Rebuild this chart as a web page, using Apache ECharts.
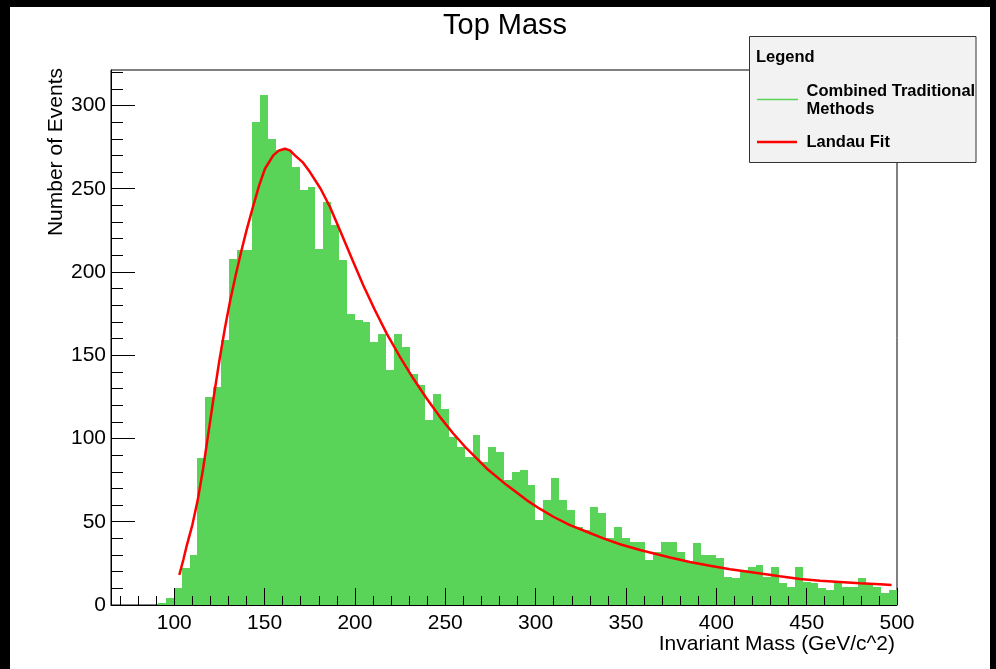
<!DOCTYPE html>
<html>
<head>
<meta charset="utf-8">
<title>Top Mass</title>
<script src="https://cdn.jsdelivr.net/npm/echarts@6/dist/echarts.min.js"></script>
<style>
html, body { margin: 0; padding: 0; background: #000; }
#main { width: 996px; height: 669px; }
</style>
</head>
<body>
<div id="main"></div>
<script>
// histogram: 100 bins between 65 and 500
var binMin = 65;
var binMax = 500;
var nBins = 100;
var counts = [
    0, 0, 0, 0, 0, 0, 1, 4, 10, 22,
    30, 88, 125, 131, 159, 208, 213, 213, 290, 306,
    280, 273, 273, 263, 249, 251, 214, 242, 228, 207,
    175, 171, 170, 158, 163, 141, 163, 155, 139, 132,
    111, 127, 118, 101, 95, 89, 102, 86, 95, 92,
    75, 80, 81, 72, 51, 63, 76, 63, 57, 47,
    45, 59, 55, 40, 47, 40, 38, 38, 27, 32,
    38, 38, 32, 26, 37, 30, 30, 28, 17, 16,
    21, 23, 24, 17, 23, 13, 11, 23, 14, 13,
    10, 9, 14, 11, 11, 16, 13, 11, 7, 9
];
// landau fit
var fitX = [102.8, 105, 107, 110, 113, 116, 119, 122, 125, 128,
    131, 134, 137, 140, 143.8, 147, 150.2, 154.8, 158, 161.3,
    164, 166.8, 171, 175.1, 181, 186.2, 191.7, 199.1, 204.6, 211.1,
    217.6, 224.9, 232.3, 239.7, 247, 254.4, 261.8, 272.9, 284, 295,
    302, 309.8, 319, 328.3, 337.5, 346.7, 357.8, 374.4, 385.4, 396.5,
    407.6, 418.6, 435.2, 446.3, 457.4, 468.4, 479.5, 490.6, 497];
var fitY = [18, 27, 36, 48, 63, 82, 104, 126, 147, 166,
    183, 198, 212, 225, 240, 252, 262, 270, 273, 274,
    273, 270, 266, 260, 250, 239, 225, 206, 192, 177,
    163, 149, 136, 124, 113, 103, 94, 82, 72, 63,
    58, 53, 48, 44, 40, 36.5, 33, 28.5, 25.8, 23.6,
    21.5, 19.8, 17.2, 15.6, 14.6, 13.8, 13, 12.4, 12];
// axis ticks
var xMajorTicks = [100, 150, 200, 250, 300, 350, 400, 450, 500];
var xMinorTicks = [70, 80, 90, 110, 120, 130, 140, 160, 170, 180, 190, 210, 220, 230, 240,
    260, 270, 280, 290, 310, 320, 330, 340, 360, 370, 380, 390, 410, 420, 430, 440,
    460, 470, 480, 490];
var yMajorTicks = [0, 50, 100, 150, 200, 250, 300];
var yMinorTicks = [10, 20, 30, 40, 60, 70, 80, 90, 110, 120, 130, 140, 160, 170, 180, 190,
    210, 220, 230, 240, 260, 270, 280, 290, 310, 320];
var yMax = 321.3;

var FONT = 'Liberation Sans, Arial, Helvetica, sans-serif';
var barColor = '#59d459';

function buildBins() {
    var w = (binMax - binMin) / nBins;
    var arr = [];
    for (var i = 0; i < nBins; i++) {
        arr.push([binMin + i * w, binMin + (i + 1) * w, counts[i]]);
    }
    return arr;
}

function buildFit() {
    var arr = [];
    for (var i = 0; i < fitX.length; i++) {
        arr.push([fitX[i], fitY[i]]);
    }
    return arr;
}

function renderBin(params, api) {
    var n = api.value(2);
    if (!n) return;
    var p0 = api.coord([api.value(0), 0]);
    var p1 = api.coord([api.value(1), n]);
    // snap to whole pixels so neighbouring bins touch without seams
    var x0 = Math.round(p0[0]);
    var x1 = Math.round(p1[0]);
    var yTop = Math.round(p1[1]);
    return {
        type: 'rect',
        shape: { x: x0, y: yTop, width: x1 - x0, height: p0[1] - yTop },
        style: { fill: barColor }
    };
}

var option = {
    backgroundColor: '#000',
    animation: false,
    title: {
        text: 'Top Mass',
        left: 438,
        top: 6,
        textStyle: { fontSize: 29, fontWeight: 'normal', color: '#000', fontFamily: FONT }
    },
    grid: {
        left: 111, top: 70, right: 99, bottom: 64,
        show: true, borderColor: '#000', borderWidth: 1, backgroundColor: 'transparent'
    },
    xAxis: [{
        type: 'value', min: binMin, max: binMax, position: 'bottom', z: 10,
        axisLine: { show: true, onZero: false, lineStyle: { color: '#000', width: 1 } },
        axisTick: { show: true, inside: true, length: 17, customValues: xMajorTicks, lineStyle: { color: '#000' } },
        axisLabel: { customValues: xMajorTicks, fontSize: 21, color: '#000', fontFamily: FONT, margin: 8 },
        splitLine: { show: false }
    }, {
        type: 'value', min: binMin, max: binMax, position: 'bottom', z: 10,
        axisLine: { show: false },
        axisTick: { show: true, inside: true, length: 9, customValues: xMinorTicks, lineStyle: { color: '#000' } },
        axisLabel: { show: false },
        splitLine: { show: false }
    }],
    yAxis: [{
        type: 'value', min: 0, max: yMax, position: 'left', z: 10,
        axisLine: { show: true, onZero: false, lineStyle: { color: '#000', width: 1 } },
        axisTick: { show: true, inside: true, length: 24, customValues: yMajorTicks, lineStyle: { color: '#000' } },
        axisLabel: { customValues: yMajorTicks, fontSize: 21, color: '#000', fontFamily: FONT, margin: 5 },
        splitLine: { show: false }
    }, {
        type: 'value', min: 0, max: yMax, position: 'left', z: 10,
        axisLine: { show: false },
        axisTick: { show: true, inside: true, length: 12, customValues: yMinorTicks, lineStyle: { color: '#000' } },
        axisLabel: { show: false },
        splitLine: { show: false }
    }],
    graphic: [
        // white canvas inside the dark window border
        { type: 'rect', z: -100, shape: { x: 10, y: 7, width: 980, height: 662 }, style: { fill: '#fff' } },
        { type: 'text', x: 895, y: 644, style: { text: 'Invariant Mass (GeV/c^2)', fontSize: 21, fontFamily: FONT, fill: '#000', align: 'right', verticalAlign: 'middle' } },
        { type: 'text', x: 56, y: 68, rotation: Math.PI / 2, style: { text: 'Number of Events', fontSize: 21, fontFamily: FONT, fill: '#000', align: 'right', verticalAlign: 'middle' } },
        // legend box
        { type: 'rect', z: 100, shape: { x: 749.5, y: 36.5, width: 226.5, height: 126 }, style: { fill: '#f2f2f2', stroke: '#333', lineWidth: 1 } },
        { type: 'text', z: 101, x: 756, y: 57, style: { text: 'Legend', fontSize: 16.5, fontWeight: 'bold', fontFamily: FONT, fill: '#000', verticalAlign: 'middle' } },
        { type: 'line', z: 101, shape: { x1: 757, y1: 99.5, x2: 798, y2: 99.5 }, style: { stroke: barColor, lineWidth: 1.5 } },
        { type: 'text', z: 101, x: 806.5, y: 100, style: { text: 'Combined Traditional\nMethods', fontSize: 16.5, fontWeight: 'bold', fontFamily: FONT, fill: '#000', verticalAlign: 'middle', lineHeight: 18 } },
        { type: 'line', z: 101, shape: { x1: 757, y1: 142, x2: 797, y2: 142 }, style: { stroke: '#ff0000', lineWidth: 2.5 } },
        { type: 'text', z: 101, x: 806.5, y: 142.5, style: { text: 'Landau Fit', fontSize: 16.5, fontWeight: 'bold', fontFamily: FONT, fill: '#000', verticalAlign: 'middle' } }
    ],
    series: [{
        name: 'Combined Traditional Methods',
        type: 'custom',
        xAxisIndex: 0,
        yAxisIndex: 0,
        renderItem: renderBin,
        encode: { x: [0, 1], y: 2 },
        data: buildBins(),
        z: 2
    }, {
        name: 'Landau Fit',
        type: 'line',
        xAxisIndex: 0,
        yAxisIndex: 0,
        data: buildFit(),
        showSymbol: false,
        smooth: false,
        lineStyle: { color: '#ff0000', width: 2.5 },
        z: 3
    }]
};

var chart = echarts.init(document.getElementById('main'));
chart.setOption(option, true);
</script>
</body>
</html>
